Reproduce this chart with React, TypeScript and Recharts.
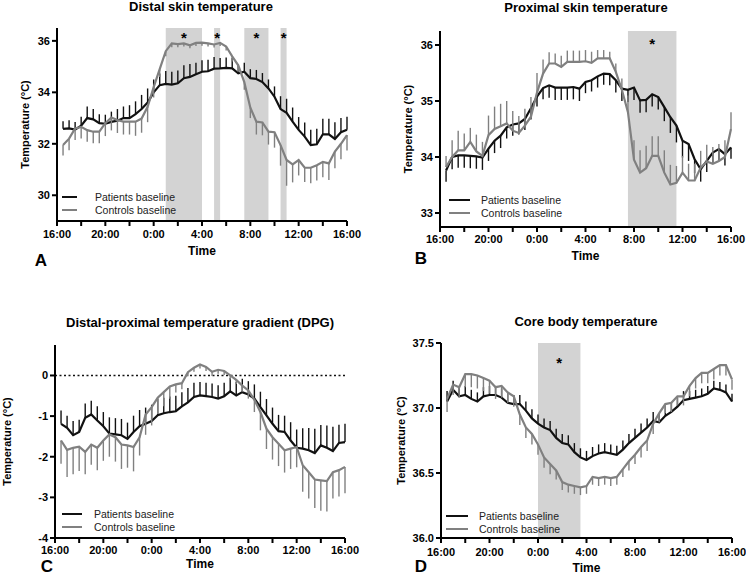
import React from 'react';
import {
    LineChart,
    Line,
    XAxis,
    YAxis,
    ErrorBar,
    ReferenceArea,
    ReferenceLine,
    Legend
} from 'recharts';

// hours after 16:00, one point every 30 min
const hours = [
    0.5, 1, 1.5, 2, 2.5, 3, 3.5, 4, 4.5, 5, 5.5, 6, 6.5, 7, 7.5, 8,
    8.5, 9, 9.5, 10, 10.5, 11, 11.5, 12, 12.5, 13, 13.5, 14, 14.5, 15, 15.5, 16,
    16.5, 17, 17.5, 18, 18.5, 19, 19.5, 20, 20.5, 21, 21.5, 22, 22.5, 23, 23.5, 24
];
const tickHours = [0, 2, 4, 6, 8, 10, 12, 14, 16, 18, 20, 22, 24];
const tickLabels = ['16:00', '', '20:00', '', '0:00', '', '4:00', '', '8:00', '', '12:00', '', '16:00'];
const legendOrder = ['Patients baseline', 'Controls baseline'];

// A - distal skin temperature
const distalPatients = [
    32.58, 32.6, 32.55, 32.7, 33.0, 32.95, 32.8, 32.78, 32.85, 32.9, 33.0, 33.0, 33.15, 33.35, 33.6, 34.0,
    34.28, 34.33, 34.3, 34.35, 34.55, 34.6, 34.7, 34.8, 34.82, 34.92, 34.93, 34.95, 34.93, 34.74, 34.8, 34.55,
    34.52, 34.4, 34.15, 33.83, 33.35, 33.2, 32.86, 32.54, 32.28, 31.95, 31.98, 32.37, 32.37, 32.19, 32.45, 32.55
];
const distalPatientsErr = [
    0.3, 0.32, 0.3, 0.35, 0.45, 0.4, 0.35, 0.35, 0.4, 0.45, 0.45, 0.5, 0.5, 0.55, 0.55, 0.5,
    0.45, 0.5, 0.5, 0.5, 0.5, 0.5, 0.45, 0.45, 0.45, 0.45, 0.4, 0.4, 0.4, 0.35, 0.35, 0.35,
    0.35, 0.35, 0.35, 0.4, 0.5, 0.55, 0.55, 0.5, 0.55, 0.6, 0.6, 0.6, 0.6, 0.65, 0.55, 0.5
];
const distalControls = [
    31.95, 32.2, 32.6, 32.66, 32.53, 32.47, 32.47, 32.8, 33.02, 32.92, 32.86, 32.86, 32.86, 32.98, 33.44, 34.2,
    34.9, 35.6, 35.9, 35.87, 35.9, 35.83, 35.92, 35.93, 35.9, 35.86, 35.92, 35.78, 35.4, 35.05, 34.4, 33.4,
    32.86, 32.83, 32.47, 32.45, 31.95, 31.37, 31.2, 31.37, 31.07, 31.07, 31.17, 31.3, 31.24, 31.7, 32.0, 32.34
];
const distalControlsErr = [
    0.4, 0.45, 0.45, 0.45, 0.45, 0.45, 0.45, 0.5, 0.5, 0.5, 0.5, 0.5, 0.55, 0.55, 0.6, 0.4,
    0.3, 0.2, 0.15, 0.12, 0.12, 0.12, 0.12, 0.12, 0.12, 0.12, 0.12, 0.15, 0.2, 0.25, 0.3, 0.4,
    0.5, 0.5, 0.5, 0.6, 0.8, 1.0, 0.7, 0.6, 0.55, 0.6, 0.6, 0.6, 0.65, 0.65, 0.6, 0.6
];
const distalShades = [[9, 12], [13, 13.5], [15.5, 17.5], [18.5, 19]];

// B - proximal skin temperature
const proximalPatients = [
    33.76, 34.0, 34.03, 34.03, 34.02, 34.01, 33.99, 34.15, 34.29, 34.38, 34.53, 34.58, 34.6, 34.68, 34.87, 35.08,
    35.23, 35.28, 35.24, 35.24, 35.24, 35.25, 35.22, 35.34, 35.37, 35.44, 35.49, 35.48, 35.37, 35.22, 35.2, 35.24,
    35.01, 35.02, 35.12, 35.07, 34.89, 34.71, 34.56, 34.29, 34.23, 33.96, 33.78, 33.93, 34.08, 34.14, 34.05, 34.17
];
const proximalPatientsErr = [
    0.2, 0.22, 0.22, 0.22, 0.22, 0.22, 0.22, 0.22, 0.22, 0.22, 0.2, 0.2, 0.2, 0.2, 0.2, 0.18,
    0.2, 0.22, 0.22, 0.22, 0.22, 0.22, 0.22, 0.2, 0.2, 0.2, 0.2, 0.2, 0.22, 0.22, 0.22, 0.22,
    0.22, 0.22, 0.22, 0.22, 0.25, 0.28, 0.3, 0.3, 0.3, 0.25, 0.22, 0.2, 0.2, 0.2, 0.2, 0.2
];
const proximalControls = [
    33.82, 34.0, 34.12, 34.12, 34.27, 34.1, 34.02, 34.39, 34.5, 34.55, 34.6, 34.47, 34.43, 34.56, 34.72, 35.15,
    35.49, 35.67, 35.67, 35.61, 35.7, 35.7, 35.7, 35.71, 35.68, 35.76, 35.76, 35.76, 35.52, 35.2, 34.8, 33.95,
    33.72, 33.8, 34.02, 34.02, 33.72, 33.51, 33.54, 33.72, 33.58, 33.58, 33.81, 33.92, 33.88, 33.93, 34.0, 34.5
];
const proximalControlsErr = [
    0.2, 0.3, 0.35, 0.3, 0.25, 0.3, 0.25, 0.35, 0.4, 0.4, 0.4, 0.35, 0.3, 0.3, 0.35, 0.35,
    0.25, 0.2, 0.18, 0.2, 0.2, 0.2, 0.2, 0.2, 0.2, 0.15, 0.15, 0.12, 0.15, 0.2, 0.3, 0.35,
    0.4, 0.4, 0.35, 0.35, 0.4, 0.35, 0.3, 0.3, 0.3, 0.3, 0.3, 0.3, 0.3, 0.3, 0.3, 0.3
];
const proximalShades = [[15.5, 19.5]];

// C - distal-proximal gradient
const dpgPatients = [
    -1.19, -1.29, -1.47, -1.39, -1.04, -0.96, -1.11, -1.25, -1.43, -1.45, -1.47, -1.56, -1.39, -1.25, -1.19, -1.12,
    -0.98, -0.93, -0.9, -0.88, -0.76, -0.66, -0.53, -0.49, -0.51, -0.53, -0.57, -0.51, -0.39, -0.49, -0.41, -0.47,
    -0.57, -0.78, -0.98, -1.19, -1.37, -1.39, -1.6, -1.78, -1.8, -1.84, -1.91, -1.72, -1.78, -1.86, -1.66, -1.64
];
const dpgPatientsErr = [
    0.33, 0.3, 0.35, 0.3, 0.35, 0.34, 0.35, 0.35, 0.4, 0.4, 0.4, 0.4, 0.4, 0.4, 0.4, 0.4,
    0.4, 0.38, 0.38, 0.38, 0.35, 0.35, 0.35, 0.33, 0.33, 0.33, 0.33, 0.33, 0.33, 0.33, 0.33, 0.33,
    0.35, 0.38, 0.4, 0.4, 0.4, 0.4, 0.45, 0.45, 0.5, 0.55, 0.6, 0.5, 0.55, 0.6, 0.45, 0.45
];
const dpgControls = [
    -1.6, -1.83, -1.78, -1.75, -1.88, -1.7, -1.78, -1.6, -1.45, -1.52, -1.7, -1.72, -1.76, -1.52, -0.96, -0.78,
    -0.55, -0.41, -0.27, -0.22, -0.19, 0.08, 0.19, 0.27, 0.21, 0.09, 0.14, 0.11, 0.0, -0.11, -0.25, -0.37,
    -0.6, -0.9, -1.31, -1.52, -1.68, -1.84, -1.8, -1.76, -2.21, -2.38, -2.56, -2.58, -2.6, -2.38, -2.33, -2.25
];
const dpgControlsErr = [
    0.57, 0.67, 0.65, 0.6, 0.55, 0.5, 0.55, 0.5, 0.55, 0.6, 0.6, 0.55, 0.6, 0.45, 0.5, 0.45,
    0.4, 0.35, 0.3, 0.2, 0.15, 0.1, 0.1, 0.1, 0.1, 0.1, 0.1, 0.1, 0.1, 0.1, 0.15, 0.2,
    0.3, 0.45, 0.5, 0.55, 0.55, 0.55, 0.5, 0.5, 0.65, 0.65, 0.7, 0.75, 0.75, 0.65, 0.65, 0.65
];

// D - core body temperature
const corePatients = [
    37.05, 37.14, 37.09, 37.1, 37.07, 37.05, 37.09, 37.1, 37.1, 37.08, 37.04, 37.03, 37.03, 36.98, 36.92, 36.88,
    36.85, 36.83, 36.77, 36.73, 36.72, 36.66, 36.62, 36.6, 36.63, 36.65, 36.66, 36.65, 36.64, 36.68, 36.73, 36.77,
    36.81, 36.85, 36.9, 36.89, 36.94, 36.97, 37.01, 37.06, 37.07, 37.08, 37.09, 37.11, 37.15, 37.14, 37.12, 37.05
];
const corePatientsErr = [
    0.08, 0.07, 0.07, 0.07, 0.07, 0.07, 0.07, 0.07, 0.07, 0.07, 0.07, 0.07, 0.07, 0.07, 0.07, 0.07,
    0.07, 0.07, 0.07, 0.07, 0.07, 0.07, 0.07, 0.07, 0.07, 0.07, 0.07, 0.07, 0.07, 0.07, 0.07, 0.07,
    0.07, 0.07, 0.07, 0.07, 0.07, 0.07, 0.07, 0.07, 0.06, 0.06, 0.06, 0.06, 0.06, 0.06, 0.06, 0.06
];
const coreControls = [
    37.07, 37.18, 37.16, 37.26, 37.26, 37.25, 37.23, 37.21, 37.16, 37.17, 37.12, 37.09, 36.95, 36.85, 36.8, 36.72,
    36.62, 36.57, 36.52, 36.43, 36.41, 36.4, 36.39, 36.4, 36.47, 36.46, 36.47, 36.46, 36.47, 36.53, 36.59, 36.64,
    36.7, 36.75, 36.88, 36.96, 37.03, 37.04, 37.09, 37.09, 37.17, 37.23, 37.27, 37.27, 37.3, 37.33, 37.33, 37.22
];
const coreControlsErr = [
    0.1, 0.08, 0.08, 0.1, 0.1, 0.1, 0.1, 0.1, 0.09, 0.09, 0.08, 0.08, 0.08, 0.08, 0.08, 0.08,
    0.08, 0.08, 0.07, 0.06, 0.06, 0.06, 0.06, 0.06, 0.06, 0.06, 0.06, 0.06, 0.06, 0.06, 0.07, 0.07,
    0.08, 0.08, 0.08, 0.07, 0.07, 0.07, 0.07, 0.07, 0.08, 0.08, 0.08, 0.08, 0.08, 0.08, 0.08, 0.08
];
const coreShades = [[8, 11.5]];

const FONT = 'Arial, "Liberation Sans", Helvetica, sans-serif';
const BLACK = '#111111';
const GRAY = '#808080';
const SHADE = '#d3d3d3';

function buildRows(p: number[], pe: number[], c: number[], ce: number[], patientsUp: boolean) {
    return hours.map((t, i) => ({
        t,
        patients: p[i],
        patientsErr: patientsUp ? [0, pe[i]] : [pe[i], 0],
        controls: c[i],
        controlsErr: patientsUp ? [ce[i], 0] : [0, ce[i]]
    }));
}

const panels = [
    {
        key: 'A', title: 'Distal skin temperature', titleX: 201, titleY: 7, letterX: 41, letterY: 260,
        left: 0, top: 0, width: 373, height: 260, mt: 28, mr: 26, mb: 5, yw: 57, xh: 34, tm: 4, labelOffset: 25,
        domain: [29, 36.5], yTicks: [30, 32, 34, 36], fixed: 0,
        data: buildRows(distalPatients, distalPatientsErr, distalControls, distalControlsErr, true),
        shades: distalShades, starOffset: 4, zeroLine: false,
        legend: { left: 62, top: 191, lineW: 15, gap: 18, rowH: 12.5 }
    },
    {
        key: 'B', title: 'Proximal skin temperature', titleX: 586, titleY: 8, letterX: 421, letterY: 258,
        left: 373, top: 0, width: 373, height: 265, mt: 31, mr: 15, mb: 5, yw: 67, xh: 33, tm: 3, labelOffset: 35,
        domain: [32.75, 36.25], yTicks: [33, 34, 35, 36], fixed: 0,
        data: buildRows(proximalPatients, proximalPatientsErr, proximalControls, proximalControlsErr, false),
        shades: proximalShades, starOffset: 7, zeroLine: false,
        legend: { left: 76, top: 193.5, lineW: 21, gap: 11, rowH: 13 }
    },
    {
        key: 'C', title: 'Distal-proximal temperature gradient (DPG)', titleX: 200, titleY: 323, letterX: 47, letterY: 566,
        left: 0, top: 300, width: 373, height: 275, mt: 45, mr: 28, mb: 7, yw: 55, xh: 30, tm: 3, labelOffset: 7,
        domain: [-4, 0.75], yTicks: [-4, -3, -2, -1, 0], fixed: 0,
        data: buildRows(dpgPatients, dpgPatientsErr, dpgControls, dpgControlsErr, true),
        shades: [], starOffset: 0, zeroLine: true,
        legend: { left: 62, top: 207.5, lineW: 20, gap: 12, rowH: 13 }
    },
    {
        key: 'D', title: 'Core body temperature', titleX: 586, titleY: 322, letterX: 421, letterY: 566,
        left: 373, top: 300, width: 373, height: 275, mt: 43, mr: 14, mb: 3, yw: 68, xh: 34, tm: 5, labelOffset: 28,
        domain: [36, 37.5], yTicks: [36, 36.5, 37, 37.5], fixed: 1,
        data: buildRows(corePatients, corePatientsErr, coreControls, coreControlsErr, true),
        shades: coreShades, starOffset: 14, zeroLine: false,
        legend: { left: 73, top: 209.5, lineW: 22, gap: 11, rowH: 13 }
    }
];

const axisText = { fill: '#000', fontSize: 11, fontWeight: 700, fontFamily: FONT };

const makeLegend = (cfg: { lineW: number; gap: number; rowH: number }) => (props: any) => {
    const items = [...(props.payload || [])].sort(
        (a: any, b: any) => legendOrder.indexOf(a.value) - legendOrder.indexOf(b.value)
    );
    return (
        <div style={{ fontFamily: FONT, fontSize: 10.5, color: '#222' }}>
            {items.map((entry: any) => (
                <div key={entry.value} style={{ display: 'flex', alignItems: 'center', height: cfg.rowH }}>
                    <span style={{ display: 'inline-block', width: cfg.lineW, borderTop: `2.5px solid ${entry.color}` }} />
                    <span style={{ marginLeft: cfg.gap, whiteSpace: 'nowrap' }}>{entry.value}</span>
                </div>
            ))}
        </div>
    );
};

const Panel = ({ p }: { p: typeof panels[number] }) => (
    <div style={{ position: 'absolute', left: p.left, top: p.top }}>
        <LineChart
            width={p.width}
            height={p.height}
            data={p.data}
            margin={{ top: p.mt, right: p.mr, bottom: p.mb, left: 0 }}
        >
            {p.shades.map(([a, b]) => (
                <ReferenceArea
                    key={a}
                    x1={a}
                    x2={b}
                    fill={SHADE}
                    fillOpacity={1}
                    stroke="none"
                    label={{ value: '*', position: 'insideTop', offset: p.starOffset, fill: '#000', fontSize: 15, fontWeight: 700, fontFamily: FONT }}
                />
            ))}
            <XAxis
                type="number"
                dataKey="t"
                domain={[0, 24]}
                ticks={tickHours}
                tickFormatter={(v: number) => tickLabels[tickHours.indexOf(v)]}
                interval={0}
                height={p.xh}
                tickSize={5}
                tickMargin={p.tm}
                axisLine={{ stroke: '#000', strokeWidth: 2 }}
                tickLine={{ stroke: '#000', strokeWidth: 2 }}
                tick={axisText}
                label={{ value: 'Time', position: 'insideBottom', offset: 0, fill: '#000', fontSize: 12, fontWeight: 700, fontFamily: FONT }}
            />
            <YAxis
                type="number"
                domain={p.domain}
                ticks={p.yTicks}
                allowDataOverflow
                width={p.yw}
                tickSize={5}
                tickMargin={2}
                tickFormatter={(v: number) => v.toFixed(p.fixed)}
                axisLine={{ stroke: '#000', strokeWidth: 2 }}
                tickLine={{ stroke: '#000', strokeWidth: 2 }}
                tick={axisText}
                label={{
                    value: 'Temperature (°C)',
                    angle: -90,
                    position: 'insideLeft',
                    offset: p.labelOffset,
                    fill: '#000',
                    fontSize: 11,
                    fontWeight: 700,
                    fontFamily: FONT,
                    style: { textAnchor: 'middle' }
                }}
            />
            {p.zeroLine && (
                <ReferenceLine y={0} stroke={BLACK} strokeWidth={1.5} strokeDasharray="2 2.5" />
            )}
            <Legend
                layout="horizontal"
                verticalAlign="middle"
                align="center"
                content={makeLegend(p.legend)}
                wrapperStyle={{ left: p.legend.left, top: p.legend.top, width: 'auto', height: 'auto' }}
            />
            <Line
                type="linear"
                dataKey="patients"
                name="Patients baseline"
                stroke={BLACK}
                strokeWidth={2.2}
                dot={false}
                isAnimationActive={false}
            >
                <ErrorBar dataKey="patientsErr" width={0} stroke={BLACK} strokeWidth={1.4} isAnimationActive={false} />
            </Line>
            <Line
                type="linear"
                dataKey="controls"
                name="Controls baseline"
                stroke={GRAY}
                strokeWidth={2.2}
                dot={false}
                isAnimationActive={false}
            >
                <ErrorBar dataKey="controlsErr" width={0} stroke={GRAY} strokeWidth={1.4} isAnimationActive={false} />
            </Line>
        </LineChart>
    </div>
);

const App: React.FC = () => (
    <div style={{ position: 'absolute', left: 0, top: 0, width: 746, height: 575, background: '#fff', fontFamily: FONT, overflow: 'hidden' }}>
        {panels.map(p => (
            <Panel key={p.key} p={p} />
        ))}
        {panels.map(p => (
            <div
                key={'t' + p.key}
                style={{
                    position: 'absolute', left: p.titleX - 180, top: p.titleY - 8, width: 360,
                    textAlign: 'center', fontSize: 13, fontWeight: 700, lineHeight: '16px', color: '#000'
                }}
            >
                {p.title}
            </div>
        ))}
        {panels.map(p => (
            <div
                key={'l' + p.key}
                style={{
                    position: 'absolute', left: p.letterX - 20, top: p.letterY - 8, width: 40,
                    textAlign: 'center', fontSize: 17, fontWeight: 700, lineHeight: '17px', color: '#000'
                }}
            >
                {p.key}
            </div>
        ))}
    </div>
);

export default App;
